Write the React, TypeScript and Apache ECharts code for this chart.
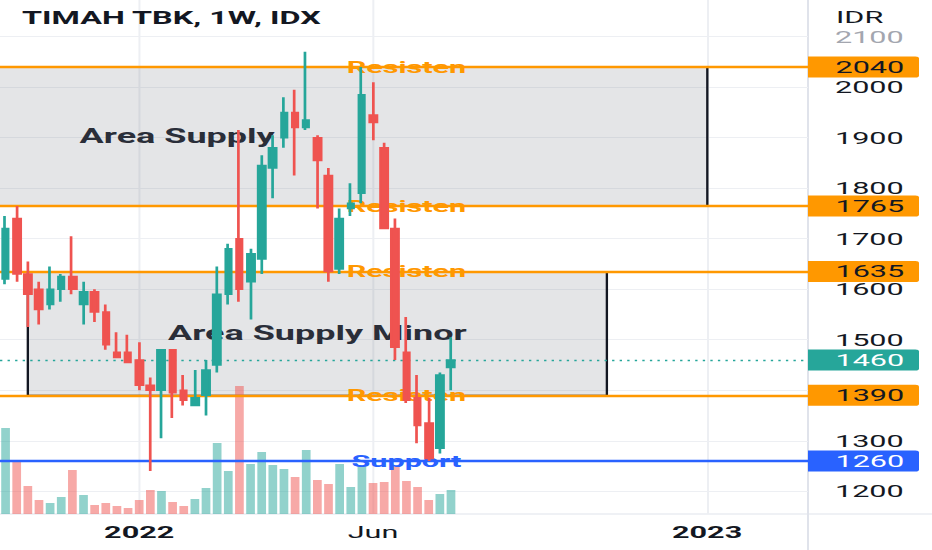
import React, { useEffect, useRef } from "react";
import * as echarts from "echarts";

// ---------- data ----------
const weeks: string[] = (() => {
  const out: string[] = [];
  const start = Date.UTC(2021, 9, 11); // Mon 11 Oct 2021
  for (let i = 0; i < 73; i++) {
    const d = new Date(start + i * 7 * 86400000);
    out.push(d.toISOString().slice(0, 10));
  }
  return out;
})();

const open = [1620, 1740, 1630, 1600, 1570, 1600, 1625, 1570, 1595, 1555, 1475, 1475, 1460, 1410, 1400, 1480, 1400, 1370, 1390, 1450, 1590, 1700, 1615, 1660, 1840, 1900, 1950, 1920, 1900, 1825, 1640, 1760, 1790, 1945, 1880, 1720, 1475, 1385, 1335, 1285, 1445];
const high = [1745, 1765, 1655, 1615, 1645, 1630, 1705, 1615, 1600, 1570, 1515, 1510, 1495, 1425, 1480, 1480, 1430, 1440, 1460, 1645, 1690, 1915, 1680, 1865, 1905, 1980, 1995, 2070, 1905, 1840, 1760, 1810, 2040, 2010, 1890, 1740, 1545, 1430, 1385, 1435, 1505];
const low = [1610, 1615, 1525, 1530, 1560, 1575, 1590, 1530, 1535, 1480, 1465, 1455, 1400, 1240, 1305, 1345, 1370, 1370, 1350, 1435, 1570, 1575, 1540, 1630, 1780, 1880, 1825, 1915, 1760, 1615, 1630, 1745, 1770, 1895, 1720, 1460, 1375, 1295, 1260, 1275, 1400];
const close = [1720, 1630, 1590, 1560, 1600, 1625, 1600, 1595, 1555, 1490, 1465, 1455, 1410, 1400, 1480, 1395, 1380, 1385, 1440, 1590, 1680, 1600, 1670, 1845, 1880, 1950, 1920, 1935, 1855, 1635, 1740, 1770, 1985, 1930, 1720, 1485, 1380, 1330, 1265, 1430, 1460];
const volume = [86, 54, 28, 14, 11, 17, 44, 19, 9, 11, 8, 6, 14, 24, 23, 12, 8, 15, 26, 71, 43, 128, 50, 62, 49, 45, 37, 64, 34, 30, 50, 27, 49, 31, 32, 48, 33, 27, 14, 20, 24];

const resistLevels = [2040, 1765, 1635, 1390];
const supportLevel = 1260;
const lastPrice = close[close.length - 1];

const yTickMin = 1200;
const yTickMax = 2100;
const yTickStep = 100;
const yTickHidden = [1400]; // covered by the price tags in the reference

const xTickIndex = [12, 33, 63];
const xTickText = ["2022", "Jun", "2023"];
const xTickBold = [true, false, true];

const zoneNames = ["Area Supply", "Area Supply Minor"];
const zoneStart = [-32.2, 2];
const zoneEnd = [63.02, 54];
const zoneLow = [1765, 1390];
const zoneHigh = [2040, 1635];

// ---------- layout ----------
const CW = 518;
const H = 550;
const SX = 932 / CW; // reference is stretched horizontally
const rx = (v: number) => v / SX;
const PLOT_H = 514;
const Y_MIN = 1155;
const Y_MAX = 2172.6;
const N = weeks.length;
const SLOT = rx(11.175);
const FIRST = rx(2.7);
const GRID_LEFT = FIRST - SLOT / 2;
const SEP_X = rx(808);
const priceY = (v: number) => (PLOT_H * (Y_MAX - v)) / (Y_MAX - Y_MIN);

const TEAL = "#26a69a";
const RED = "#ef5350";
const ORANGE = "#ff9800";
const BLUE = "#2962ff";
const GRIDC = "#edeff3";
const TXT = "#131722";

const tagBox = {
  fontSize: 17,
  fontFamily: "Roboto",
  width: rx(111) - rx(27.5),
  height: 21,
  lineHeight: 21,
  padding: [0, 0, 0, rx(27.5)],
  borderRadius: [0, 2, 2, 0],
};

function buildOption(): any {
  const levelLine = (v: number, color: string, text: string) => ({
    yAxis: v,
    lineStyle: { color, width: 2.4, type: "solid" },
    label: { show: true, formatter: text, color },
  });
  return {
    animation: false,
    textStyle: { fontFamily: "Roboto" },
    title: {
      text: "TIMAH TBK, 1W, IDX",
      left: rx(22),
      top: 9,
      padding: 0,
      textStyle: { fontSize: 18, fontWeight: "bold", color: TXT, fontFamily: "Roboto", lineHeight: 18 },
    },
    grid: [
      { left: GRID_LEFT, top: 0, width: N * SLOT, height: PLOT_H },
      { left: 0, top: priceY(yTickMax), width: SEP_X, height: priceY(yTickMin) - priceY(yTickMax) },
    ],
    xAxis: [
      {
        type: "category",
        gridIndex: 0,
        data: weeks,
        boundaryGap: true,
        axisLine: { show: false },
        axisTick: { show: false },
        splitLine: { show: false },
        axisLabel: {
          interval: (i: number) => xTickIndex.includes(i),
          margin: 10,
          formatter: (_v: string, i: number) => {
            const k = xTickIndex.indexOf(i);
            if (k < 0) return "";
            return `{${xTickBold[k] ? "b" : "m"}|${xTickText[k]}}`;
          },
          rich: {
            b: { fontSize: 17, fontWeight: "bold", color: TXT, fontFamily: "Roboto" },
            m: { fontSize: 17, color: TXT, fontFamily: "Roboto" },
          },
        },
      },
      { type: "value", gridIndex: 0, min: -0.5, max: N - 0.5, show: false },
      { type: "value", gridIndex: 1, min: 0, max: 1, show: false },
    ],
    yAxis: [
      { type: "value", gridIndex: 0, min: Y_MIN, max: Y_MAX, show: false },
      {
        type: "value",
        gridIndex: 1,
        position: "right",
        min: yTickMin,
        max: yTickMax,
        interval: yTickStep,
        axisLine: { show: false },
        axisTick: { show: false },
        splitLine: { show: true, lineStyle: { color: GRIDC, width: 1.2 } },
        axisLabel: {
          margin: rx(835) - SEP_X,
          fontSize: 17,
          lineHeight: 13,
          color: TXT,
          showMinLabel: true,
          showMaxLabel: true,
          formatter: (v: number) =>
            yTickHidden.includes(v) ? "" : v === yTickMax ? `{f|${v}}` : `${v}`,
          rich: { f: { color: "#a3a6af", fontSize: 17, lineHeight: 13, fontFamily: "Roboto" } },
        },
      },
      { type: "value", gridIndex: 0, min: 0, max: PLOT_H, show: false },
      {
        type: "value",
        gridIndex: 1,
        position: "right",
        min: yTickMin,
        max: yTickMax,
        z: 10,
        axisLine: { show: false },
        axisTick: { show: false },
        splitLine: { show: false },
        axisLabel: {
          margin: 0,
          customValues: [...resistLevels, lastPrice, supportLevel],
          formatter: (v: number) =>
            v === lastPrice ? `{t|${v}}` : v === supportLevel ? `{u|${v}}` : `{o|${v}}`,
          rich: {
            o: { ...tagBox, backgroundColor: ORANGE, color: TXT },
            t: { ...tagBox, backgroundColor: TEAL, color: "#ffffff" },
            u: { ...tagBox, backgroundColor: BLUE, color: "#ffffff" },
          },
        },
      },
    ],
    graphic: [
      { type: "line", z: 0, silent: true, shape: { x1: SEP_X, y1: 0, x2: SEP_X, y2: H }, style: { stroke: "#e0e3eb", lineWidth: 1.1 } },
      { type: "line", z: 0, silent: true, shape: { x1: 0, y1: PLOT_H, x2: CW, y2: PLOT_H }, style: { stroke: "#e0e3eb", lineWidth: 1.2 } },
      { type: "text", x: rx(836), y: 17.5, style: { text: "IDR", font: "17px Roboto", fill: TXT, verticalAlign: "middle" } },
    ],
    series: [
      {
        type: "custom",
        name: "zones",
        xAxisIndex: 1,
        yAxisIndex: 0,
        z: 1,
        clip: true,
        silent: true,
        data: zoneNames.map((_n, i) => [zoneStart[i], zoneEnd[i], zoneLow[i], zoneHigh[i]]),
        encode: { x: [0, 1], y: [2, 3] },
        renderItem: (params: any, api: any) => {
          const i = params.dataIndex;
          const p0 = api.coord([api.value(0), api.value(3)]);
          const p1 = api.coord([api.value(1), api.value(2)]);
          return {
            type: "group",
            children: [
              {
                type: "rect",
                shape: { x: p0[0], y: p0[1], width: p1[0] - p0[0], height: p1[1] - p0[1] },
                style: { fill: "rgba(120,123,134,0.2)", stroke: TXT, lineWidth: 1.3 },
              },
              {
                type: "text",
                style: {
                  text: zoneNames[i],
                  x: (p0[0] + p1[0]) / 2,
                  y: (p0[1] + p1[1]) / 2,
                  align: "center",
                  verticalAlign: "middle",
                  fill: "#2a2e39",
                  font: "bold 20px Roboto",
                },
              },
            ],
          };
        },
        markLine: {
          z: 0.5,
          silent: true,
          symbol: ["none", "none"],
          label: { show: false },
          lineStyle: { color: GRIDC, width: 1.1, type: "solid" },
          data: xTickIndex.map((i) => ({ xAxis: i })),
        },
      },
      {
        type: "bar",
        name: "Volume",
        xAxisIndex: 0,
        yAxisIndex: 2,
        z: 2,
        barWidth: rx(8.7),
        silent: true,
        data: volume.map((v, i) => ({
          value: v,
          itemStyle: { color: close[i] >= open[i] ? "rgba(38,166,154,0.5)" : "rgba(239,83,80,0.5)" },
        })),
      },
      {
        type: "candlestick",
        name: "TINS",
        xAxisIndex: 0,
        yAxisIndex: 0,
        z: 4,
        barWidth: rx(10) - 1.5,
        data: open.map((o, i) => [o, close[i], low[i], high[i]]),
        itemStyle: { color: TEAL, color0: RED, borderColor: TEAL, borderColor0: RED, borderWidth: 1.5 },
        markLine: {
          z: 3,
          silent: true,
          symbol: ["none", "none"],
          label: {
            show: true,
            position: "middle",
            distance: 0,
            verticalAlign: "middle",
            align: "center",
            fontSize: 17,
            fontWeight: "bold",
            fontFamily: "Roboto",
          },
          data: [
            ...resistLevels.map((v) => levelLine(v, ORANGE, "Resisten")),
            levelLine(supportLevel, BLUE, "Support"),
            {
              yAxis: lastPrice,
              lineStyle: { color: TEAL, width: 1.4, type: [1.3, 2.9] },
              label: { show: false },
            },
          ],
        },
      },
    ],
  };
}

export default function App() {
  const ref = useRef<HTMLDivElement>(null);
  useEffect(() => {
    const chart = echarts.init(ref.current!, null, { renderer: "svg" });
    chart.setOption(buildOption());
    return () => chart.dispose();
  }, []);
  return (
    <div
      ref={ref}
      style={{
        position: "fixed",
        left: 0,
        top: 0,
        width: CW,
        height: H,
        transform: `scaleX(${SX})`,
        transformOrigin: "0 0",
        background: "#ffffff",
      }}
    />
  );
}
